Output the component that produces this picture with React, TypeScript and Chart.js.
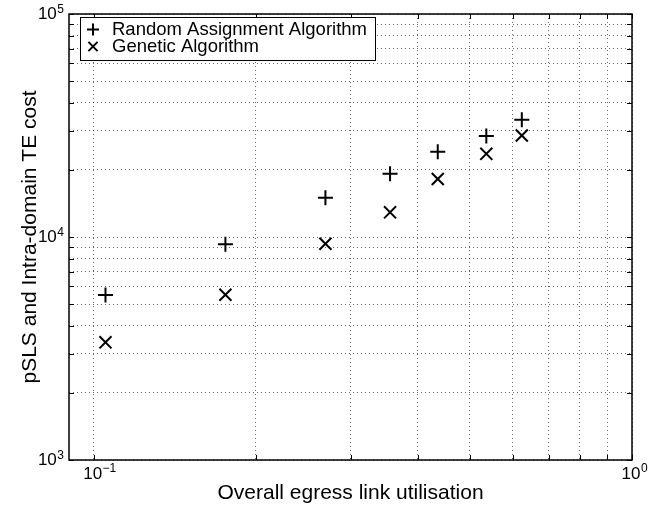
import React, { useEffect, useRef } from 'react';
import { Chart, registerables } from 'chart.js';

Chart.register(...registerables);

// ---- data ----
const utilisation = [0.1052, 0.1757, 0.2695, 0.3553, 0.4357, 0.5363, 0.6242];
const randomAssignmentCost = [5500, 9270, 15000, 19200, 24100, 28400, 33600];
const geneticCost = [3370, 5510, 9330, 12900, 18200, 23600, 28500];
const seriesLabels = ['Random Assignment Algorithm', 'Genetic Algorithm'];

// ---- axes ----
const xMin = 0.09;
const xMax = 1;
const yMin = 1000;
const yMax = 100000;
const xTicks = [0.1, 0.2, 0.3, 0.4, 0.5, 0.6, 0.7, 0.8, 0.9, 1];
const xMajorTicks = [0.1, 1];
const xMajorExponents = ['−1', '0'];
const yTicks = [
  1000, 2000, 3000, 4000, 5000, 6000, 7000, 8000, 9000,
  10000, 20000, 30000, 40000, 50000, 60000, 70000, 80000, 90000, 100000,
];
const yMajorTicks = [1000, 10000, 100000];
const yMajorExponents = ['3', '4', '5'];
const tickBase = '10';
const xTitle = 'Overall egress link utilisation';
const yTitle = 'pSLS and Intra-domain TE cost';

const FONT = '"Liberation Sans", Arial, Helvetica, sans-serif';

function drawMarker(ctx: CanvasRenderingContext2D, style: string, x: number, y: number, r: number) {
  ctx.beginPath();
  if (style === 'cross') {
    ctx.moveTo(x - r, y);
    ctx.lineTo(x + r, y);
    ctx.moveTo(x, y - r);
    ctx.lineTo(x, y + r);
  } else {
    const d = r * Math.SQRT1_2;
    ctx.moveTo(x - d, y - d);
    ctx.lineTo(x + d, y + d);
    ctx.moveTo(x + d, y - d);
    ctx.lineTo(x - d, y + d);
  }
  ctx.stroke();
}

const framePlugin = {
  id: 'frameAndInnerTicks',
  afterDatasetsDraw(chart: any) {
    const { ctx, chartArea: a, scales } = chart;
    ctx.save();
    ctx.setLineDash([]);
    ctx.strokeStyle = '#000';
    ctx.lineWidth = 1;
    ctx.beginPath();
    for (const t of scales.x.ticks) {
      const px = Math.round(scales.x.getPixelForValue(t.value)) + 0.5;
      ctx.moveTo(px, a.bottom);
      ctx.lineTo(px, a.bottom - 5);
      ctx.moveTo(px, a.top);
      ctx.lineTo(px, a.top + 5);
    }
    for (const t of scales.y.ticks) {
      const py = Math.round(scales.y.getPixelForValue(t.value)) + 0.5;
      ctx.moveTo(a.left, py);
      ctx.lineTo(a.left + 5, py);
      ctx.moveTo(a.right, py);
      ctx.lineTo(a.right - 5, py);
    }
    ctx.stroke();
    ctx.lineWidth = 1.5;
    ctx.strokeRect(a.left, a.top, a.right - a.left, a.bottom - a.top);
    ctx.restore();
  },
};

// power-of-ten tick labels with a real superscript
const powerLabelsPlugin = {
  id: 'powerLabels',
  afterDraw(chart: any) {
    const { ctx, chartArea: a, scales } = chart;
    ctx.save();
    ctx.fillStyle = '#000';
    ctx.textBaseline = 'alphabetic';
    const baseFont = `17px ${FONT}`;
    const expFont = `12px ${FONT}`;
    // x axis
    xMajorTicks.forEach((v, i) => {
      const px = scales.x.getPixelForValue(v);
      ctx.font = baseFont;
      const bw = ctx.measureText(tickBase).width;
      const x0 = px - 1 - bw / 2;
      const by = a.bottom + 18.5;
      ctx.textAlign = 'left';
      ctx.fillText(tickBase, x0, by);
      ctx.font = expFont;
      ctx.fillText(xMajorExponents[i], x0 + bw + 0.5, by - 6.5);
    });
    // y axis
    yMajorTicks.forEach((v, i) => {
      const py = scales.y.getPixelForValue(v);
      ctx.font = expFont;
      const ew = ctx.measureText(yMajorExponents[i]).width;
      const right = a.left - 5;
      const by = py + 5;
      ctx.textAlign = 'left';
      ctx.fillText(yMajorExponents[i], right - ew, by - 6.5);
      ctx.font = baseFont;
      const bw = ctx.measureText(tickBase).width;
      ctx.fillText(tickBase, right - ew - 0.5 - bw, by);
    });
    ctx.restore();
  },
};

const boxLegendPlugin = {
  id: 'boxLegend',
  afterDraw(chart: any) {
    const { ctx, chartArea: a } = chart;
    const ds = chart.data.datasets;
    ctx.save();
    ctx.font = `18.5px ${FONT}`;
    const textW = Math.max(...ds.map((d: any) => ctx.measureText(d.label).width));
    const left = a.left + 11;
    const top = a.top + 3;
    const textX = left + 32;
    const rowH = 17;
    const w = Math.round(textX - left + textW + 8);
    const h = rowH * ds.length + 9;
    ctx.fillStyle = '#fff';
    ctx.fillRect(left, top, w, h);
    ctx.strokeStyle = '#000';
    ctx.lineWidth = 1;
    ctx.strokeRect(left + 0.5, top + 0.5, w, h);
    ds.forEach((d: any, i: number) => {
      const cy = top + 12.5 + i * rowH;
      ctx.lineWidth = 2;
      ctx.strokeStyle = '#000';
      drawMarker(ctx, d.pointStyle, left + 13, cy, d.pointStyle === 'cross' ? 6 : 6.5);
      ctx.fillStyle = '#000';
      ctx.textAlign = 'left';
      ctx.textBaseline = 'middle';
      ctx.fillText(d.label, textX, cy);
    });
    ctx.restore();
  },
};

export default function App() {
  const canvasRef = useRef<HTMLCanvasElement | null>(null);

  useEffect(() => {
    const canvas = canvasRef.current;
    if (!canvas) return;
    const gridCommon = {
      color: 'rgba(0,0,0,0.6)',
      lineWidth: 1,
      drawTicks: false,
    };
    const chart = new Chart(canvas, {
      type: 'scatter',
      data: {
        datasets: [
          {
            label: seriesLabels[0],
            data: utilisation.map((x, i) => ({ x, y: randomAssignmentCost[i] })),
            pointStyle: 'cross',
            pointRadius: 7.5,
            pointBorderWidth: 2,
            borderColor: '#000',
            backgroundColor: '#000',
            showLine: false,
          },
          {
            label: seriesLabels[1],
            data: utilisation.map((x, i) => ({ x, y: geneticCost[i] })),
            pointStyle: 'crossRot',
            pointRadius: 8.5,
            pointBorderWidth: 2,
            borderColor: '#000',
            backgroundColor: '#000',
            showLine: false,
          },
        ],
      },
      options: {
        responsive: false,
        animation: false,
        devicePixelRatio: 1,
        layout: { padding: { top: 14, right: 26, left: 0, bottom: 0 } },
        plugins: {
          legend: { display: false },
          tooltip: { enabled: false },
        },
        scales: {
          x: {
            type: 'logarithmic',
            min: xMin,
            max: xMax,
            grid: gridCommon,
            border: { display: false, dash: [1, 3] },
            afterBuildTicks: (scale: any) => {
              scale.ticks = xTicks.map((v) => ({ value: v, major: false }));
            },
            afterFit: (scale: any) => {
              scale.height = 45;
            },
            ticks: { display: false, autoSkip: false },
            title: {
              display: true,
              text: xTitle,
              color: '#000',
              font: { family: FONT, size: 21, lineHeight: 1.1 },
              padding: { top: 0, bottom: 0 },
            },
          },
          y: {
            type: 'logarithmic',
            min: yMin,
            max: yMax,
            grid: gridCommon,
            border: { display: false, dash: [1, 3] },
            afterBuildTicks: (scale: any) => {
              scale.ticks = yTicks.map((v) => ({ value: v, major: false }));
            },
            afterFit: (scale: any) => {
              scale.width = 69;
            },
            ticks: { display: false, autoSkip: false },
            title: {
              display: true,
              text: yTitle,
              color: '#000',
              font: { family: FONT, size: 21 },
              padding: { top: 18, bottom: 0 },
            },
          },
        },
      } as any,
      plugins: [framePlugin, powerLabelsPlugin, boxLegendPlugin],
    });
    return () => chart.destroy();
  }, []);

  return (
    <div style={{ position: 'absolute', left: 0, top: 0, width: 658, height: 505, background: '#fff' }}>
      <canvas ref={canvasRef} width={658} height={505} style={{ display: 'block' }} />
    </div>
  );
}
